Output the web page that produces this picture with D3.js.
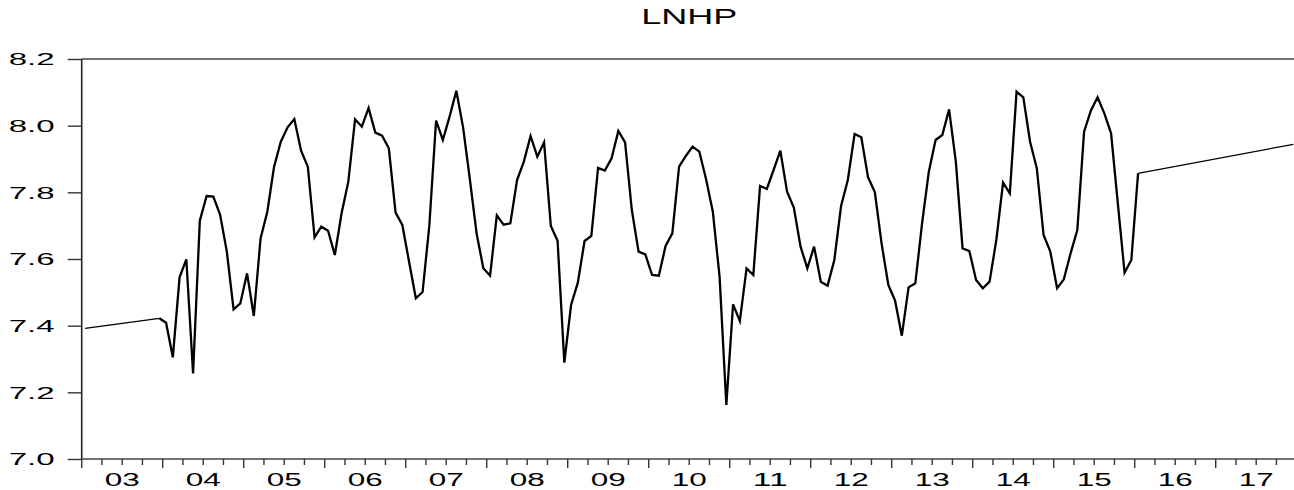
<!DOCTYPE html>
<html>
<head>
<meta charset="utf-8">
<script src="https://cdn.jsdelivr.net/npm/d3@7"></script>
<style>
  html, body { margin: 0; padding: 0; background: #fff; }
  svg { display: block; }
  text { font-family: "Liberation Sans", Arial, sans-serif; fill: #000; }
</style>
</head>
<body>
<svg id="chart" width="1294" height="490"></svg>
<script>
// Monthly observations of LNHP (log house price), "YYYY-MM"
const months = [
  "2003-01", "2003-12",
  "2004-01","2004-02","2004-03","2004-04","2004-05","2004-06","2004-07","2004-08","2004-09","2004-10","2004-11","2004-12",
  "2005-01","2005-02","2005-03","2005-04","2005-05","2005-06","2005-07","2005-08","2005-09","2005-10","2005-11","2005-12",
  "2006-01","2006-02","2006-03","2006-04","2006-05","2006-06","2006-07","2006-08","2006-09","2006-10","2006-11","2006-12",
  "2007-01","2007-02","2007-03","2007-04","2007-05","2007-06","2007-07","2007-08","2007-09","2007-10","2007-11","2007-12",
  "2008-01","2008-02","2008-03","2008-04","2008-05","2008-06","2008-07","2008-08","2008-09","2008-10","2008-11","2008-12",
  "2009-01","2009-02","2009-03","2009-04","2009-05","2009-06","2009-07","2009-08","2009-09","2009-10","2009-11","2009-12",
  "2010-01","2010-02","2010-03","2010-04","2010-05","2010-06","2010-07","2010-08","2010-09","2010-10","2010-11","2010-12",
  "2011-01","2011-02","2011-03","2011-04","2011-05","2011-06","2011-07","2011-08","2011-09","2011-10","2011-11","2011-12",
  "2012-01","2012-02","2012-03","2012-04","2012-05","2012-06","2012-07","2012-08","2012-09","2012-10","2012-11","2012-12",
  "2013-01","2013-02","2013-03","2013-04","2013-05","2013-06","2013-07","2013-08","2013-09","2013-10","2013-11","2013-12",
  "2014-01","2014-02","2014-03","2014-04","2014-05","2014-06","2014-07","2014-08","2014-09","2014-10","2014-11","2014-12",
  "2015-01","2015-02","2015-03","2015-04","2015-05","2015-06","2015-07","2015-08","2015-09","2015-10","2015-11","2015-12",
  "2016-01",
  "2017-12"
];

const lnhp = [
  7.392, 7.422,
  7.409, 7.305, 7.545, 7.599, 7.257, 7.715, 7.789, 7.787, 7.733, 7.622, 7.449, 7.467,
  7.557, 7.429, 7.662, 7.742, 7.877, 7.952, 7.995, 8.020, 7.925, 7.877, 7.665, 7.697,
  7.685, 7.612, 7.737, 7.832, 8.019, 7.997, 8.053, 7.979, 7.970, 7.932, 7.739, 7.702,
  7.592, 7.482, 7.501, 7.700, 8.015, 7.957, 8.027, 8.105, 7.995, 7.840, 7.677, 7.572,
  7.550, 7.731, 7.703, 7.707, 7.837, 7.892, 7.969, 7.907, 7.950, 7.699, 7.655, 7.289,
  7.462, 7.529, 7.654, 7.669, 7.873, 7.865, 7.902, 7.984, 7.950, 7.747, 7.622, 7.614,
  7.552, 7.550, 7.639, 7.677, 7.877, 7.909, 7.937, 7.922, 7.839, 7.742, 7.547, 7.162,
  7.464, 7.414, 7.572, 7.552, 7.819, 7.810, 7.867, 7.925, 7.802, 7.754, 7.637, 7.572,
  7.637, 7.532, 7.520, 7.597, 7.759, 7.837, 7.975, 7.965, 7.845, 7.801, 7.647, 7.522,
  7.475, 7.370, 7.515, 7.527, 7.707, 7.862, 7.957, 7.972, 8.049, 7.892, 7.632, 7.624,
  7.537, 7.512, 7.532, 7.657, 7.829, 7.797, 8.102, 8.085, 7.952, 7.872, 7.672, 7.622,
  7.512, 7.539, 7.617, 7.687, 7.982, 8.045, 8.085, 8.037, 7.977, 7.767, 7.559, 7.597,
  7.857,
  7.944
];

const yearLabels = ["03","04","05","06","07","08","09","10","11","12","13","14","15","16","17"];
const yTicks = [7.0, 7.2, 7.4, 7.6, 7.8, 8.0, 8.2];
const chartTitle = "LNHP";

const startYear = 2003, nYears = yearLabels.length;
const monthIndex = s => (+s.slice(0, 4) - startYear) * 12 + (+s.slice(5, 7) - 1);
const series = months.map((m, i) => ({ idx: monthIndex(m), value: lnhp[i] }));

const svg = d3.select("#chart");
const plotLeft = 81.7, plotRight = 1296.7, plotTop = 59, plotBottom = 459;

const x = d3.scaleLinear().domain([0, nYears * 12]).range([plotLeft, plotRight]);
const y = d3.scaleLinear().domain([7.0, 8.2]).range([plotBottom, plotTop]);

// Title
svg.append("text")
  .attr("x", (plotLeft + plotRight) / 2).attr("y", 24)
  .attr("text-anchor", "middle")
  .attr("font-size", 21.5)
  .attr("textLength", 96).attr("lengthAdjust", "spacingAndGlyphs")
  .text(chartTitle);

// Frame: top border, left and bottom axis lines
const frame = svg.append("g").attr("stroke", "#222").attr("fill", "none");
frame.append("line").attr("x1", plotLeft).attr("x2", plotRight).attr("y1", plotTop).attr("y2", plotTop).attr("stroke-width", 1.6).attr("stroke", "#444");
frame.append("line").attr("x1", plotLeft).attr("x2", plotLeft).attr("y1", plotTop).attr("y2", plotBottom).attr("stroke-width", 1.6);
frame.append("line").attr("x1", plotLeft).attr("x2", plotRight).attr("y1", plotBottom).attr("y2", plotBottom).attr("stroke-width", 1.6).attr("stroke", "#444");

// Y axis: outward ticks and labels
const yAxis = d3.axisLeft(y).tickValues(yTicks).tickSize(14).tickPadding(0).tickFormat(d3.format(".1f"));
const gy = svg.append("g").attr("transform", `translate(${plotLeft},0)`).call(yAxis);
gy.select(".domain").remove();
gy.selectAll(".tick line").attr("stroke", "#333").attr("stroke-width", 1.4);
gy.selectAll(".tick text")
  .attr("x", -27).attr("dy", "0.36em")
  .attr("font-size", 16.5).attr("font-family", "Liberation Sans, Arial, sans-serif")
  .attr("textLength", 46).attr("lengthAdjust", "spacingAndGlyphs")
  .attr("fill", "#000");

// X axis: quarterly minor ticks, longer yearly ticks
const quarterTicks = d3.range(0, nYears * 12 + 1, 3);
const gx = svg.append("g").attr("stroke", "#333").attr("stroke-width", 1.4);
gx.selectAll("line").data(quarterTicks).join("line")
  .attr("x1", d => x(d)).attr("x2", d => x(d))
  .attr("y1", plotBottom).attr("y2", d => plotBottom + (d % 12 === 0 ? 9 : 6));

svg.append("g").selectAll("text").data(yearLabels).join("text")
  .attr("x", (d, i) => x(i * 12 + 6)).attr("y", 485.5)
  .attr("text-anchor", "middle")
  .attr("font-size", 18)
  .attr("textLength", 35).attr("lengthAdjust", "spacingAndGlyphs")
  .text(d => d);

// Series: consecutive months drawn as a bold line, spans across missing months as a thin line
const px = d => x(d.idx + 0.5), py = d => y(d.value);
const runs = [];
const bridges = [];
let cur = [series[0]];
for (let i = 1; i < series.length; i++) {
  if (series[i].idx === series[i - 1].idx + 1) {
    cur.push(series[i]);
  } else {
    runs.push(cur);
    bridges.push([series[i - 1], series[i]]);
    cur = [series[i]];
  }
}
runs.push(cur);

const line = d3.line().x(px).y(py);
svg.append("g").selectAll("path.bridge").data(bridges).join("path")
  .attr("class", "bridge")
  .attr("d", line)
  .attr("fill", "none").attr("stroke", "#000").attr("stroke-width", 1.3);

svg.append("g").selectAll("path.run").data(runs.filter(r => r.length > 1)).join("path")
  .attr("class", "run")
  .attr("d", line)
  .attr("fill", "none").attr("stroke", "#000").attr("stroke-width", 2.3)
  .attr("stroke-linejoin", "miter").attr("stroke-miterlimit", 4);
</script>
</body>
</html>
